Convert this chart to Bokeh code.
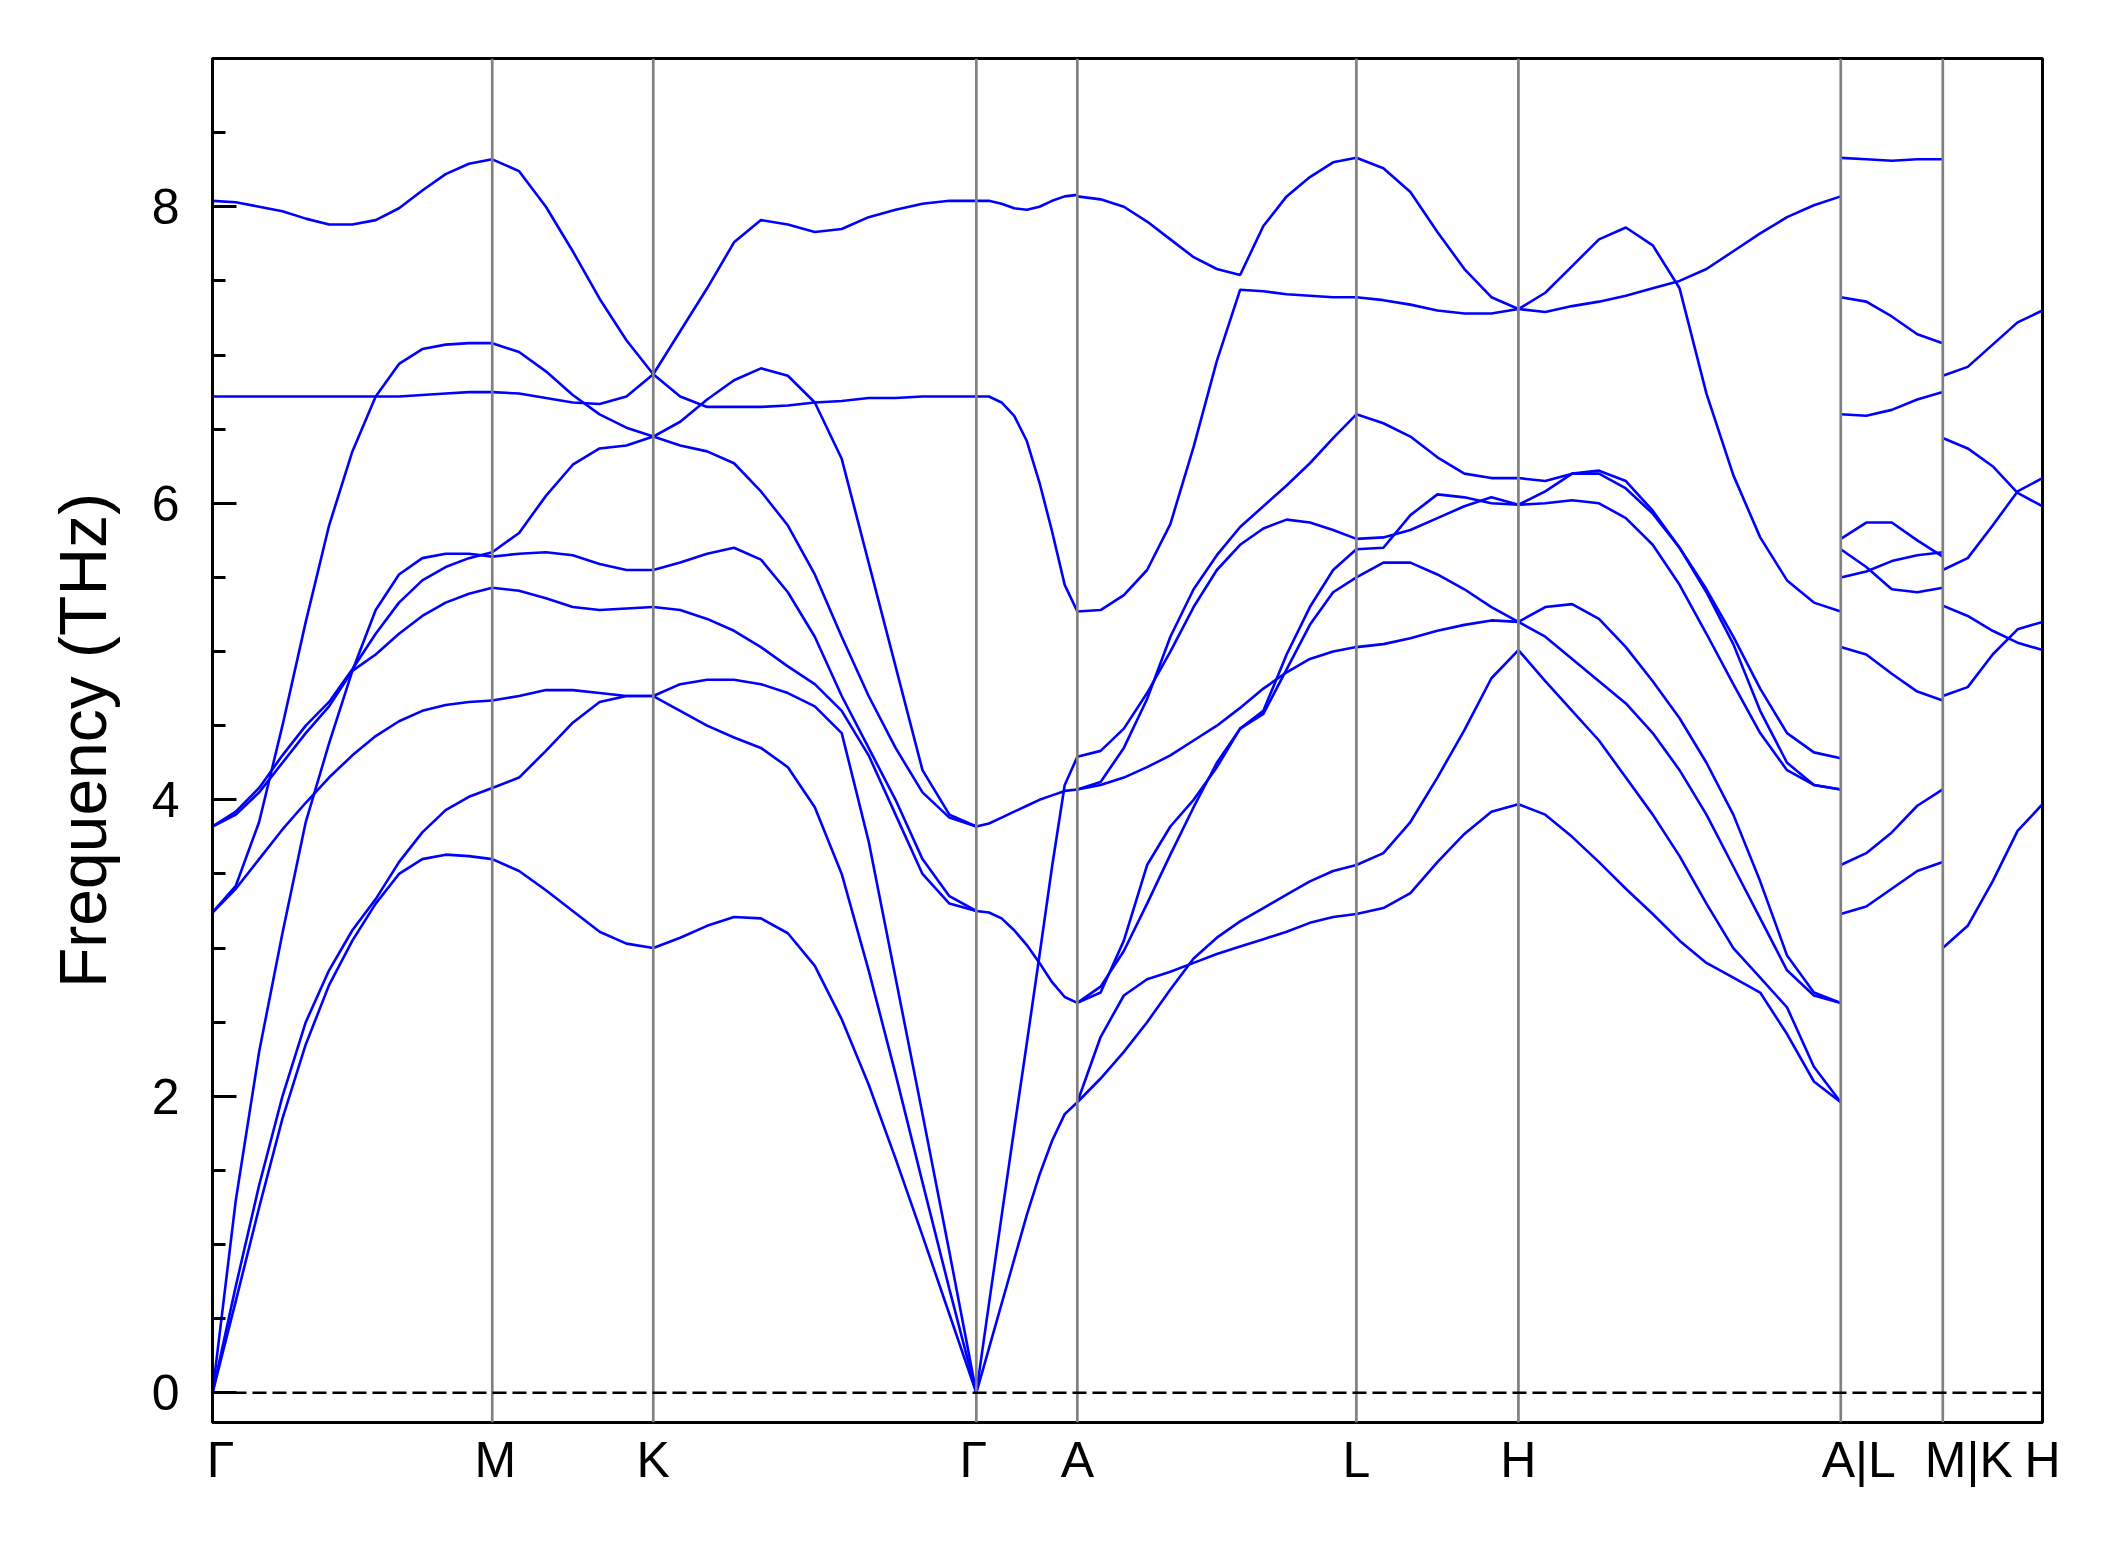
from bokeh.plotting import figure
from bokeh.models import Range1d, FixedTicker, Span
from bokeh.embed import file_html
from bokeh.resources import INLINE

# high-symmetry path positions and labels
ticks_x = [0.0, 279.7, 440.7, 763.7, 864.7, 1143.7, 1305.7, 1628.0, 1730.0, 1829.7]
tick_labels = ["Γ", "M", "K", "Γ", "A", "L", "H", "A|L", "M|K", "H"]

# band frequencies (THz) sampled at equal steps along each segment
band_GM = [
    [0, 0.62, 1.25, 1.85, 2.35, 2.75, 3.05, 3.30, 3.50, 3.60, 3.63, 3.62, 3.60],
    [0, 0.72, 1.40, 2.00, 2.50, 2.85, 3.12, 3.33, 3.58, 3.78, 3.93, 4.02, 4.08],
    [0, 1.30, 2.30, 3.10, 3.85, 4.38, 4.87, 5.28, 5.52, 5.63, 5.66, 5.66, 5.64],
    [3.24, 3.40, 3.60, 3.80, 3.98, 4.15, 4.30, 4.43, 4.53, 4.60, 4.64, 4.66, 4.67],
    [3.24, 3.42, 3.85, 4.50, 5.20, 5.85, 6.35, 6.72, 6.94, 7.04, 7.07, 7.08, 7.08],
    [3.82, 3.90, 4.05, 4.25, 4.45, 4.63, 4.87, 4.98, 5.12, 5.24, 5.33, 5.39, 5.43],
    [3.82, 3.92, 4.08, 4.30, 4.50, 4.66, 4.88, 5.12, 5.33, 5.48, 5.57, 5.63, 5.67],
    [6.72, 6.72, 6.72, 6.72, 6.72, 6.72, 6.72, 6.72, 6.72, 6.73, 6.74, 6.75, 6.75],
    [8.04, 8.03, 8.00, 7.97, 7.92, 7.88, 7.88, 7.91, 7.99, 8.11, 8.22, 8.29, 8.32],
]
band_MK = [
    [3.60, 3.52, 3.39, 3.25, 3.11, 3.03, 3.00],
    [4.08, 4.15, 4.33, 4.52, 4.66, 4.70, 4.70],
    [4.67, 4.70, 4.74, 4.74, 4.72, 4.70, 4.70],
    [5.43, 5.41, 5.36, 5.30, 5.28, 5.29, 5.30],
    [5.64, 5.66, 5.67, 5.65, 5.59, 5.55, 5.55],
    [5.67, 5.80, 6.05, 6.26, 6.37, 6.39, 6.45],
    [6.75, 6.74, 6.71, 6.68, 6.67, 6.72, 6.87],
    [7.08, 7.02, 6.89, 6.73, 6.60, 6.51, 6.45],
    [8.32, 8.24, 8.00, 7.70, 7.38, 7.10, 6.87],
]
band_KG = [
    [3.00, 3.07, 3.15, 3.21, 3.20, 3.10, 2.88, 2.52, 2.08, 1.58, 1.06, 0.53, 0],
    [4.70, 4.60, 4.50, 4.42, 4.35, 4.22, 3.95, 3.50, 2.85, 2.15, 1.42, 0.70, 0],
    [4.70, 4.78, 4.81, 4.81, 4.78, 4.72, 4.63, 4.45, 3.72, 2.80, 1.88, 0.95, 0],
    [5.30, 5.28, 5.22, 5.14, 5.03, 4.90, 4.78, 4.60, 4.30, 3.90, 3.50, 3.30, 3.25],
    [5.55, 5.60, 5.66, 5.70, 5.62, 5.40, 5.10, 4.70, 4.35, 4.00, 3.60, 3.35, 3.25],
    [6.45, 6.39, 6.35, 6.27, 6.08, 5.85, 5.52, 5.10, 4.70, 4.35, 4.05, 3.88, 3.82],
    [6.45, 6.55, 6.70, 6.83, 6.91, 6.86, 6.68, 6.30, 5.60, 4.90, 4.20, 3.90, 3.82],
    [6.87, 6.72, 6.65, 6.65, 6.65, 6.66, 6.68, 6.69, 6.71, 6.71, 6.72, 6.72, 6.72],
    [6.87, 7.16, 7.45, 7.76, 7.91, 7.88, 7.83, 7.85, 7.93, 7.98, 8.02, 8.04, 8.04],
]
band_GA = [
    [0, 0.30, 0.60, 0.90, 1.20, 1.47, 1.70, 1.88, 1.96],
    [0, 0.60, 1.19, 1.78, 2.36, 2.95, 3.55, 4.10, 4.29],
    [3.25, 3.24, 3.20, 3.12, 3.02, 2.90, 2.77, 2.67, 2.63],
    [3.82, 3.84, 3.88, 3.92, 3.96, 4.00, 4.03, 4.06, 4.07],
    [6.72, 6.72, 6.68, 6.59, 6.42, 6.14, 5.81, 5.45, 5.27],
    [8.04, 8.04, 8.02, 7.99, 7.98, 8.00, 8.04, 8.07, 8.08],
]
band_AL = [
    [1.96, 2.40, 2.68, 2.79, 2.84, 2.90, 2.96, 3.01, 3.06, 3.11, 3.17, 3.21, 3.23],
    [1.96, 2.12, 2.30, 2.50, 2.72, 2.93, 3.07, 3.18, 3.27, 3.36, 3.45, 3.52, 3.56],
    [2.63, 2.70, 3.05, 3.56, 3.82, 4.00, 4.22, 4.48, 4.60, 4.98, 5.30, 5.55, 5.69],
    [2.63, 2.74, 2.98, 3.30, 3.63, 3.95, 4.25, 4.48, 4.58, 4.88, 5.18, 5.40, 5.50],
    [4.07, 4.10, 4.15, 4.22, 4.30, 4.40, 4.50, 4.62, 4.75, 4.86, 4.95, 5.00, 5.03],
    [4.07, 4.12, 4.35, 4.68, 5.10, 5.42, 5.65, 5.84, 5.98, 6.12, 6.27, 6.44, 6.60],
    [4.29, 4.33, 4.48, 4.72, 5.00, 5.30, 5.55, 5.72, 5.83, 5.89, 5.87, 5.82, 5.76],
    [5.27, 5.28, 5.38, 5.55, 5.86, 6.38, 6.96, 7.44, 7.43, 7.41, 7.40, 7.39, 7.39],
    [8.07, 8.05, 8.00, 7.90, 7.78, 7.66, 7.58, 7.54, 7.87, 8.07, 8.20, 8.30, 8.33],
]
band_LH = [
    [3.23, 3.27, 3.37, 3.58, 3.77, 3.92, 3.97],
    [3.56, 3.64, 3.85, 4.15, 4.47, 4.82, 5.01],
    [5.03, 5.05, 5.09, 5.14, 5.18, 5.21, 5.20],
    [5.50, 5.60, 5.60, 5.52, 5.42, 5.30, 5.20],
    [5.69, 5.70, 5.92, 6.06, 6.04, 6.00, 5.99],
    [5.76, 5.77, 5.82, 5.90, 5.98, 6.04, 5.99],
    [6.60, 6.54, 6.45, 6.31, 6.20, 6.17, 6.17],
    [7.39, 7.37, 7.34, 7.30, 7.28, 7.28, 7.31],
    [8.33, 8.26, 8.10, 7.83, 7.58, 7.39, 7.31],
]
band_HA = [
    [3.97, 3.90, 3.75, 3.58, 3.40, 3.23, 3.05, 2.90, 2.80, 2.70, 2.42, 2.10, 1.96],
    [5.01, 4.80, 4.60, 4.40, 4.15, 3.90, 3.62, 3.30, 3.00, 2.80, 2.60, 2.20, 1.96],
    [5.20, 5.10, 4.95, 4.80, 4.65, 4.45, 4.20, 3.90, 3.55, 3.20, 2.85, 2.68, 2.63],
    [5.20, 5.30, 5.32, 5.22, 5.03, 4.80, 4.55, 4.25, 3.90, 3.45, 2.95, 2.70, 2.63],
    [5.99, 6.00, 6.02, 6.00, 5.90, 5.72, 5.45, 5.12, 4.78, 4.45, 4.20, 4.10, 4.07],
    [5.99, 6.08, 6.20, 6.22, 6.15, 5.95, 5.70, 5.40, 5.05, 4.60, 4.25, 4.10, 4.07],
    [6.17, 6.15, 6.20, 6.20, 6.10, 5.93, 5.70, 5.42, 5.10, 4.75, 4.45, 4.32, 4.28],
    [7.31, 7.42, 7.60, 7.78, 7.86, 7.74, 7.45, 6.74, 6.19, 5.77, 5.48, 5.33, 5.27],
    [7.31, 7.29, 7.33, 7.36, 7.40, 7.45, 7.50, 7.58, 7.70, 7.82, 7.93, 8.01, 8.07],
]
band_LM = [
    [3.23, 3.28, 3.40, 3.52, 3.58],
    [3.56, 3.64, 3.78, 3.96, 4.07],
    [5.03, 4.98, 4.85, 4.73, 4.67],
    [5.50, 5.54, 5.61, 5.65, 5.67],
    [5.69, 5.57, 5.42, 5.40, 5.43],
    [5.76, 5.87, 5.87, 5.75, 5.64],
    [6.60, 6.59, 6.63, 6.70, 6.75],
    [7.39, 7.36, 7.26, 7.14, 7.08],
    [8.33, 8.32, 8.31, 8.32, 8.32],
]
band_KH = [
    [3.00, 3.15, 3.45, 3.79, 3.97],
    [4.70, 4.76, 4.98, 5.15, 5.20],
    [5.31, 5.24, 5.14, 5.06, 5.01],
    [5.55, 5.63, 5.85, 6.08, 6.17],
    [6.44, 6.37, 6.25, 6.07, 5.98],
    [6.86, 6.92, 7.07, 7.22, 7.30],
]

segments = [
    (0, 1, band_GM), (1, 2, band_MK), (2, 3, band_KG), (3, 4, band_GA),
    (4, 5, band_AL), (5, 6, band_LH), (6, 7, band_HA), (7, 8, band_LM),
    (8, 9, band_KH),
]

FONT = "Liberation Sans"

p = figure(width=2104, height=1533, output_backend="svg", toolbar_location=None,
           x_range=Range1d(ticks_x[0], ticks_x[-1]), y_range=Range1d(-0.2, 9.0),
           min_border_left=212, min_border_right=62, min_border_top=58,
           min_border_bottom=111)
p.frame_width = 1830
p.frame_height = 1364
p.grid.visible = False
p.background_fill_color = "white"
p.border_fill_color = "white"
p.outline_line_color = "black"
p.outline_line_width = 3

# vertical high-symmetry lines
for xv in ticks_x[1:-1]:
    p.add_layout(Span(location=xv, dimension="height", line_color="#808080",
                      line_width=2.7))

# zero line
p.add_layout(Span(location=0, dimension="width", line_color="black",
                  line_width=2.5, line_dash="14 6"))

for i0, i1, bands in segments:
    x0, x1 = ticks_x[i0], ticks_x[i1]
    n = len(bands[0])
    xs = [x0 + (x1 - x0) * k / (n - 1) for k in range(n)]
    p.multi_line(xs=[xs] * len(bands), ys=bands, line_color="#0000ff",
                 line_width=2.6)

# x axis: tick marks are hidden, so the label anchors can sit where the
# reference prints its labels (small nudges off the high-symmetry lines)
label_dx = [8, 3, 0, -3, 0, 0, 0, 18, 26, 0]
label_pos = [round(t + d, 1) for t, d in zip(ticks_x, label_dx)]
xa = p.xaxis[0]
xa.ticker = FixedTicker(ticks=label_pos)
xa.major_label_overrides = {t: l for t, l in zip(label_pos, tick_labels)}
xa.major_tick_in = 0
xa.major_tick_out = 0
xa.minor_tick_in = 0
xa.minor_tick_out = 0
xa.axis_line_width = 3
xa.major_label_text_font = FONT
xa.major_label_text_font_size = "50px"
xa.major_label_text_color = "black"
xa.major_label_standoff = 9

# y axis
ya = p.yaxis[0]
ya.ticker = FixedTicker(ticks=[0, 2, 4, 6, 8],
                        minor_ticks=[0.5, 1, 1.5, 2.5, 3, 3.5, 4.5, 5, 5.5,
                                     6.5, 7, 7.5, 8.5])
ya.major_tick_in = 24
ya.major_tick_out = 0
ya.minor_tick_in = 13
ya.minor_tick_out = 0
ya.major_tick_line_width = 3
ya.minor_tick_line_width = 3
ya.axis_line_width = 3
ya.major_label_text_font = FONT
ya.major_label_text_font_size = "50px"
ya.major_label_text_color = "black"
ya.major_label_standoff = 33
ya.axis_label = "Frequency (THz)"
ya.axis_label_text_font = FONT
ya.axis_label_text_font_size = "66px"
ya.axis_label_text_font_style = "normal"
ya.axis_label_text_color = "black"
ya.axis_label_standoff = 29

open("out.html", "w").write(file_html(p, INLINE))
